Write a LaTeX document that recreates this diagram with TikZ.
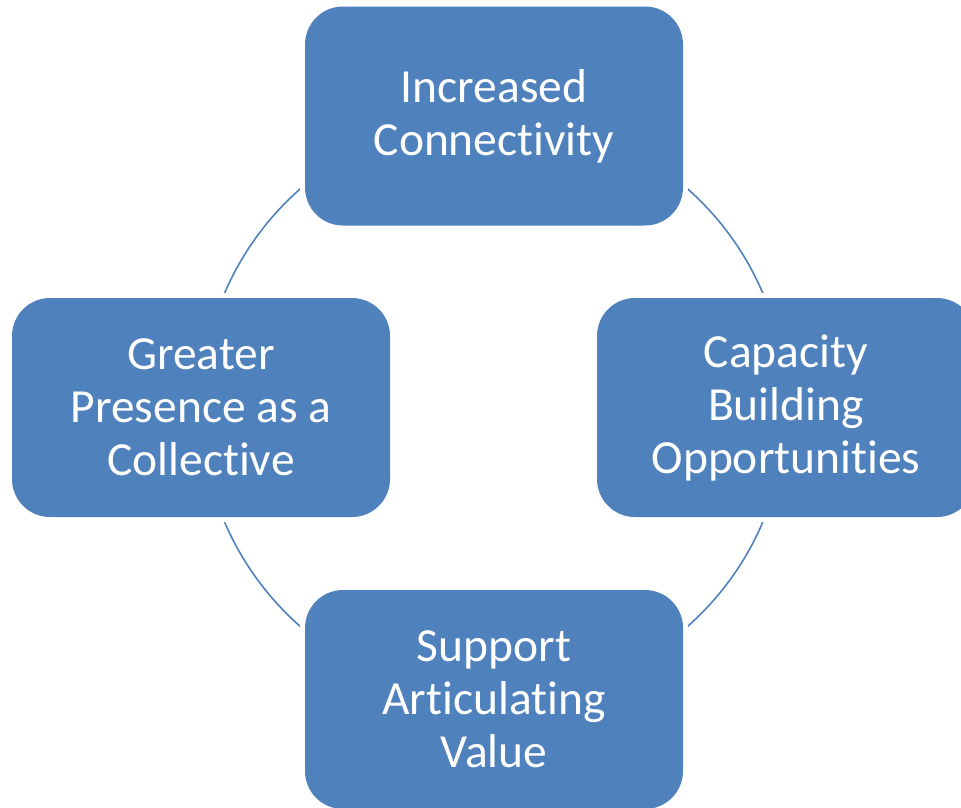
\documentclass[tikz,border=0pt]{standalone}
\usepackage{fontspec}
\setmainfont{Carlito}[RawFeature={-liga;-clig;-calt;-dlig}]
\usepackage{tikz}
\usetikzlibrary{backgrounds}

\begin{document}
\begin{tikzpicture}[x = 1pt,
                    y = -1pt]


  % BOUNDING BOX
  \useasboundingbox (0,0) rectangle (961,807);


  % BOXES STYLE
  \definecolor{boxcolor_c}{rgb}{ 0.3098,0.5059,0.7412 }
  \tikzstyle{boxstyle_c} = [fill=boxcolor_c, preaction={draw=white, line width=10pt}, rounded corners=38pt, minimum width=378pt, minimum height=219pt, inner sep=0pt, align=center, text=white, font=\fontsize{47.5}{53}\selectfont]
  \tikzstyle{ringstyle_c} = [draw=boxcolor_c, line width=1.6pt]


  % BOXES
  \node[boxstyle_c] (b0_c) at (494, 116) {Increased\\Connect\kern0pt ivity};
  \node[boxstyle_c] (b1_c) at (201, 407.5) {Greater\\Presence as a\\Collect\kern0pt ive};
  \node[boxstyle_c] (b2_c) at (494, 699.5) {Support\\Art\kern0pt iculat\kern0pt ing\\Value};
  \node[boxstyle_c] (b3_c) at (786, 407.5) {Capacity\\Building\\Opportunit\kern0pt ies};


  % RING
  \begin{scope}[on background layer]
    \draw[ringstyle_c] (b0_c.center) to[bend right=45] (b1_c.center);
    \draw[ringstyle_c] (b1_c.center) to[bend right=45] (b2_c.center);
    \draw[ringstyle_c] (b2_c.center) to[bend right=45] (b3_c.center);
    \draw[ringstyle_c] (b3_c.center) to[bend right=45] (b0_c.center);
  \end{scope}

\end{tikzpicture}
\end{document}
